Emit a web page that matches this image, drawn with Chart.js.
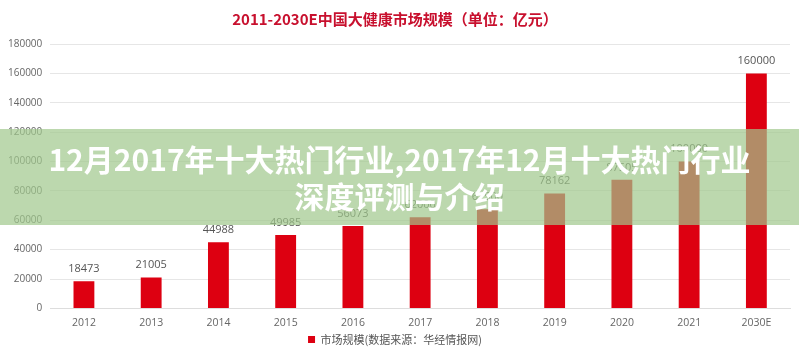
<!DOCTYPE html>
<html>
<head>
<meta charset="utf-8">
<script src="https://cdn.jsdelivr.net/npm/chart.js@4.4.1/dist/chart.umd.min.js"></script>
<style>
    html, body { margin: 0; padding: 0; background: #fff; }
    #wrap { position: relative; width: 799px; height: 355px; }
    #banner {
        position: absolute; left: 0; top: 129px; width: 799px; height: 96px;
        background: rgba(160, 200, 140, 0.7);
        color: #fff; font-family: "Noto Sans CJK SC", sans-serif; font-weight: bold;
        font-size: 30px; line-height: 37px; text-align: center;
        display: flex; flex-direction: column; justify-content: center;
    }
</style>
</head>
<body>
<div id="wrap">
    <canvas id="chart" width="799" height="355"></canvas>
    <div id="banner"><div>12月2017年十大热门行业,2017年12月十大热门行业</div><div>深度评测与介绍</div></div>
</div>
<script>
// chart data
const years = ["2012", "2013", "2014", "2015", "2016", "2017", "2018", "2019", "2020", "2021", "2030E"];
const marketSize = [18473, 21005, 44988, 49985, 56073, 62000, 67500, 78162, 87505, 100000, 160000];
const yTicks = [0, 20000, 40000, 60000, 80000, 100000, 120000, 140000, 160000, 180000];

// draws the value above each bar
const valueLabels = {
    id: "valueLabels",
    afterDatasetsDraw(chart) {
        const ctx = chart.ctx;
        const meta = chart.getDatasetMeta(0);
        ctx.save();
        ctx.font = "11px 'Open Sans', sans-serif";
        ctx.fillStyle = "#555";
        ctx.textAlign = "center";
        ctx.textBaseline = "bottom";
        meta.data.forEach(function(bar, i) {
            ctx.fillText(marketSize[i], bar.x, bar.y - 7);
        });
        ctx.restore();
    }
};

new Chart(document.getElementById("chart"), {
    type: "bar",
    data: {
        labels: years,
        datasets: [{
            label: "市场规模(数据来源：华经情报网)",
            data: marketSize,
            backgroundColor: "#dd0011",
            barPercentage: 0.62,
            categoryPercentage: 0.5
        }]
    },
    options: {
        responsive: false,
        animation: false,
        layout: { padding: { left: 0, right: 9, top: 2, bottom: 0 } },
        plugins: {
            title: {
                display: true,
                text: "2011-2030E中国大健康市场规模（单位：亿元）",
                color: "#c8102e",
                font: { size: 15, weight: "bold", family: "'Noto Sans CJK SC', sans-serif" },
                padding: { top: 8, bottom: 16 }
            },
            legend: {
                position: "bottom",
                labels: {
                    boxWidth: 7, boxHeight: 7, padding: 5,
                    color: "#555",
                    font: { size: 11, family: "'Noto Sans CJK SC', sans-serif" }
                }
            },
            tooltip: { enabled: false }
        },
        scales: {
            x: {
                grid: { display: false },
                border: { color: "#ddd" },
                ticks: { color: "#666", padding: 0, font: { size: 10.5, family: "'Open Sans', sans-serif" } }
            },
            y: {
                min: 0,
                max: 180000,
                afterBuildTicks(axis) {
                    axis.ticks = yTicks.map(v => ({ value: v }));
                },
                grid: { color: "#e6e6e6", drawTicks: false },
                border: { display: false },
                ticks: {
                    color: "#666", padding: 8,
                    font: { size: 10, family: "'Open Sans', sans-serif" },
                    callback: v => String(v)
                }
            }
        }
    },
    plugins: [valueLabels]
});
</script>
</body>
</html>
